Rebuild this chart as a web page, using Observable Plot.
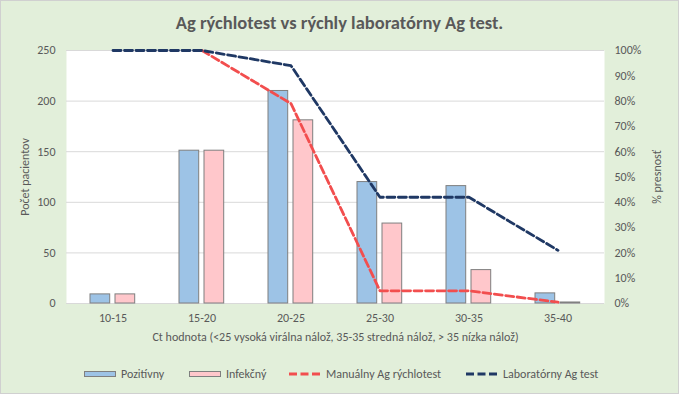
<!DOCTYPE html>
<html>
<head>
<meta charset="utf-8">
<script src="https://cdn.jsdelivr.net/npm/d3@7"></script>
<script src="https://cdn.jsdelivr.net/npm/@observablehq/plot@0.6"></script>
<style>
  html, body { margin: 0; padding: 0; }
  #chart {
    position: relative; width: 679px; height: 394px; overflow: hidden;
    background: #E2EFDA; box-shadow: inset 0 0 0 1px #D0D0D0;
    font-family: Carlito, Lato, sans-serif; color: #595959;
  }
  #title {
    height: 40px; line-height: 46px; text-align: center;
    font-weight: bold; font-size: 18.5px; color: #595959;
  }
  #plot svg { display: block; }
  .leg { position: absolute; top: 366px; height: 16px; display: flex; align-items: center; font-size: 12px; white-space: nowrap; }
  .leg svg { margin-right: 4px; }
</style>
</head>
<body>
<div id="chart">
  <div id="title">Ag rýchlotest vs rýchly laboratórny Ag test.</div>
  <div id="plot"></div>
  <div id="legend"></div>
</div>
<script>
const categories = ["10-15", "15-20", "20-25", "25-30", "30-35", "35-40"];
const pozitivny = [9, 151, 210, 120, 116, 10];
const infekcny = [9, 151, 181, 79, 33, 1];
const manualny = [null, 100, 79, 5, 5, 0.5];      // % presnosť
const laboratorny = [100, 100, 94, 42, 42, 21];   // % presnosť
const countTicks = [0, 50, 100, 150, 200, 250];
const pctTicks = [0, 10, 20, 30, 40, 50, 60, 70, 80, 90, 100];

const seriesNames = ["Pozitívny", "Infekčný", "Manuálny Ag rýchlotest", "Laboratórny Ag test"];
const xLabel = "Ct hodnota (<25 vysoká virálna nálož, 35-35 stredná nálož, > 35 nízka nálož)";
const yLabel = "Počet pacientov";
const y2Label = "% presnosť";

const PCT = 2.5; // 100 % on the right axis = 250 on the left axis

const rows = categories.map((c, i) => ({
  cat: c, poz: pozitivny[i], inf: infekcny[i],
  man: manualny[i] == null ? null : manualny[i] * PCT,
  lab: laboratorny[i] * PCT
}));

const colors = { poz: "#9DC3E6", inf: "#FFC7CB", man: "#F24E4E", lab: "#1F3864", edge: "#7F7F7F" };

const plot = Plot.plot({
  width: 679,
  height: 312,
  marginTop: 10,
  marginBottom: 49,
  marginLeft: 66,
  marginRight: 75,
  style: { fontFamily: "Carlito, Lato, sans-serif", fontSize: "12px", color: "#595959", background: "transparent", overflow: "visible" },
  x: { type: "band", domain: categories, padding: 0, label: null },
  y: { domain: [0, 250], label: null },
  marks: [
    Plot.frame({ fill: "white", stroke: null }),
    Plot.ruleY(countTicks, { stroke: "#D9D9D9", strokeWidth: 1 }),
    Plot.barY(rows, { x: "cat", y: "poz", fill: colors.poz, stroke: colors.edge, strokeWidth: 1, insetLeft: 22, insetRight: 47.3 }),
    Plot.barY(rows, { x: "cat", y: "inf", fill: colors.inf, stroke: colors.edge, strokeWidth: 1, insetLeft: 47, insetRight: 22.3 }),
    Plot.line(rows, { x: "cat", y: "man", stroke: colors.man, strokeWidth: 2.8, strokeDasharray: "8,3.5" }),
    Plot.line(rows, { x: "cat", y: "lab", stroke: colors.lab, strokeWidth: 2.8, strokeDasharray: "8,3.5" }),
    Plot.axisY({ anchor: "left", ticks: countTicks, tickSize: 0, tickPadding: 11, label: null }),
    Plot.axisY({ anchor: "right", ticks: pctTicks.map(p => p * PCT), tickFormat: d => `${Math.round(d / PCT)}%`, tickSize: 0, tickPadding: 10, label: null }),
    Plot.axisX({ anchor: "bottom", tickSize: 0, tickPadding: 10, label: null }),
    Plot.text([xLabel], { frameAnchor: "bottom", dy: 37, textAnchor: "middle" }),
    Plot.text([yLabel], { frameAnchor: "left", dx: -41, rotate: -90, textAnchor: "middle" }),
    Plot.text([y2Label], { frameAnchor: "right", dx: 53, rotate: -90, textAnchor: "middle" })
  ]
});
document.getElementById("plot").appendChild(plot);

// Legend
const legendItems = [
  { name: seriesNames[0], kind: "rect", color: colors.poz, left: 84 },
  { name: seriesNames[1], kind: "rect", color: colors.inf, left: 189 },
  { name: seriesNames[2], kind: "line", color: colors.man, left: 289 },
  { name: seriesNames[3], kind: "line", color: colors.lab, left: 466 }
];
const legend = document.getElementById("legend");
for (const it of legendItems) {
  const div = document.createElement("div");
  div.className = "leg";
  div.style.left = it.left + "px";
  const sw = it.kind === "rect"
    ? `<svg width="33" height="8"><rect x="0.5" y="1.5" width="31" height="5" fill="${it.color}" stroke="${colors.edge}" stroke-width="1"/></svg>`
    : `<svg width="33" height="8"><line x1="0" y1="4" x2="33" y2="4" stroke="${it.color}" stroke-width="2.8" stroke-dasharray="8,3.5"/></svg>`;
  div.innerHTML = sw + `<span>${it.name}</span>`;
  legend.appendChild(div);
}
</script>
</body>
</html>
